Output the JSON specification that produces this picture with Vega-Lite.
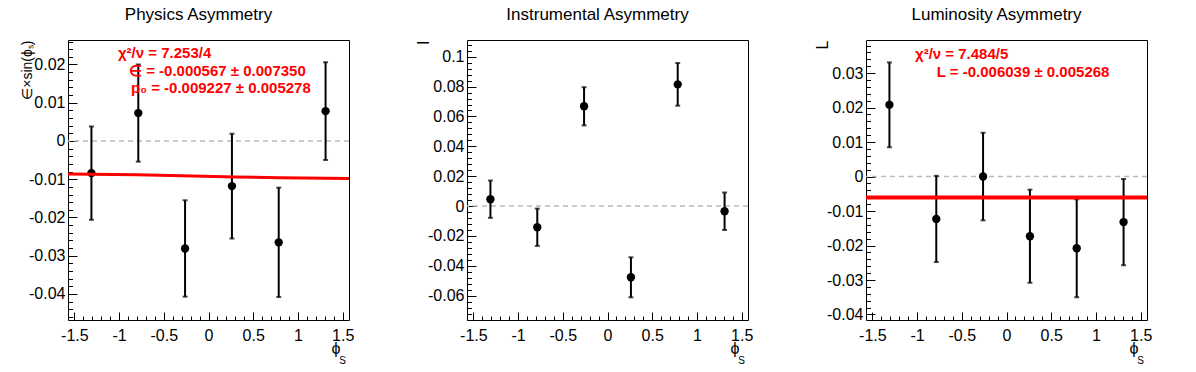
{
  "$schema": "https://vega.github.io/schema/vega-lite/v6.json",
  "autosize": {"type": "none"},
  "padding": {"left": 68, "top": 40, "right": 1128, "bottom": 332},
  "background": "white",
  "spacing": 118,
  "bounds": "flush",
  "config": {
    "view": {"stroke": "black", "strokeWidth": 1},
    "font": "Liberation Sans",
    "axis": {
      "labelFont": "Liberation Sans", "labelFontSize": 16, "labelColor": "black",
      "tickColor": "black", "tickWidth": 1, "domain": false, "grid": false,
      "labelFlush": false, "labelOverlap": false, "labelBound": false,
      "titleFont": "Liberation Sans", "titleFontSize": 16, "titleFontWeight": "normal", "titleColor": "black"
    },
    "title": {"font": "Liberation Sans", "fontSize": 17, "fontWeight": "normal", "color": "black", "dx": -10, "offset": 16}
  },
  "datasets": {
    "phys": [
      {"phi": -1.309, "asym": -0.0084, "err": 0.0122},
      {"phi": -0.785, "asym": 0.0073, "err": 0.0127},
      {"phi": -0.262, "asym": -0.0281, "err": 0.0126},
      {"phi": 0.262, "asym": -0.0118, "err": 0.0137},
      {"phi": 0.785, "asym": -0.0265, "err": 0.0143},
      {"phi": 1.309, "asym": 0.0078, "err": 0.0128}
    ],
    "physFit": [
      {"phi": -1.5708, "asym": -0.0086},
      {"phi": -0.8, "asym": -0.0088},
      {"phi": -0.3, "asym": -0.0091},
      {"phi": 0.3, "asym": -0.0094},
      {"phi": 0.8, "asym": -0.0096},
      {"phi": 1.5708, "asym": -0.0098}
    ],
    "instr": [
      {"phi": -1.309, "asym": 0.0046, "err": 0.0125},
      {"phi": -0.785, "asym": -0.0142, "err": 0.0125},
      {"phi": -0.262, "asym": 0.0668, "err": 0.0128},
      {"phi": 0.262, "asym": -0.0477, "err": 0.0134},
      {"phi": 0.785, "asym": 0.0815, "err": 0.0143},
      {"phi": 1.309, "asym": -0.0035, "err": 0.0125}
    ],
    "lumi": [
      {"phi": -1.309, "asym": 0.0208, "err": 0.0123},
      {"phi": -0.785, "asym": -0.0123, "err": 0.0125},
      {"phi": -0.262, "asym": 0.0, "err": 0.0127},
      {"phi": 0.262, "asym": -0.0173, "err": 0.0135},
      {"phi": 0.785, "asym": -0.0208, "err": 0.0142},
      {"phi": 1.309, "asym": -0.0132, "err": 0.0125}
    ],
    "lumiFit": [
      {"phi": -1.5708, "asym": -0.006039},
      {"phi": 1.5708, "asym": -0.006039}
    ],
    "one": [{}]
  },
  "hconcat": [
    {
      "width": 281, "height": 280,
      "title": {"text": "Physics Asymmetry"},
      "resolve": {"scale": {"x": "independent", "y": "independent"}, "axis": {"x": "independent", "y": "independent"}},
      "layer": [
        {"layer": [
          {"data": {"name": "one"}, "mark": {"type": "rule", "color": "#bbbbbb", "strokeDash": [5, 4], "strokeWidth": 1.5}, "encoding": {"y": {"datum": 0}}},
          {"data": {"name": "phys"},
           "mark": {"type": "errorbar", "color": "black", "thickness": 2, "ticks": {"size": 5, "thickness": 2, "color": "black"}},
           "encoding": {
             "x": {"field": "phi", "type": "quantitative", "scale": {"domain": [-1.5708, 1.5708], "nice": false, "zero": false},
               "axis": {"orient": "bottom", "title": "ϕ", "titleFontSize": 16, "titleAlign": "right", "titleBaseline": "alphabetic", "titleAngle": 0, "titleX": 272, "titleY": 33,
                 "values": [-1.5, -1, -0.5, 0, 0.5, 1, 1.5], "labelOverlap": false,
                 "labelExpr": "(datum.value<0?'-':'')+format(abs(datum.value),'~g')",
                 "tickSize": -8, "labelPadding": 15}},
             "y": {"field": "asym", "type": "quantitative", "scale": {"domain": [-0.0468, 0.0264], "nice": false, "zero": false},
               "axis": {"orient": "left", "title": "∈×sin(ϕₛ)", "titleFontSize": 14, "titleAlign": "right", "titleBaseline": "alphabetic", "titleAngle": -90, "titleX": -37, "titleY": 0,
                 "values": [-0.04, -0.03, -0.02, -0.01, 0, 0.01, 0.02], "labelOverlap": false,
                 "labelExpr": "(datum.value<0?'-':'')+format(abs(datum.value),'~g')",
                 "tickSize": -9, "labelPadding": 12}},
             "yError": {"field": "err"}
           }},
          {"data": {"name": "phys"}, "mark": {"type": "circle", "color": "black", "opacity": 1, "size": 70},
           "encoding": {"x": {"field": "phi", "type": "quantitative"}, "y": {"field": "asym", "type": "quantitative"}}},
          {"data": {"name": "physFit"}, "mark": {"type": "line", "color": "#ff0000", "strokeWidth": 3},
           "encoding": {"x": {"field": "phi", "type": "quantitative"}, "y": {"field": "asym", "type": "quantitative"}}},
          {"data": {"name": "one"}, "mark": {"type": "text", "text": "S", "fontSize": 10, "align": "right", "baseline": "alphabetic", "dy": 44, "dx": -3, "color": "black"},
           "encoding": {"x": {"datum": 1.5708}, "y": {"datum": -0.0468}}},
          {"data": {"name": "one"}, "mark": {"type": "text", "text": "χ²/ν = 7.253/4", "fontSize": 15, "fontWeight": "bold", "color": "#ff0000", "align": "left", "baseline": "middle"},
           "encoding": {"x": {"datum": -1.012}, "y": {"datum": 0.023}}},
          {"data": {"name": "one"}, "mark": {"type": "text", "text": "∈ = -0.000567 ± 0.007350", "fontSize": 15, "fontWeight": "bold", "color": "#ff0000", "align": "left", "baseline": "middle"},
           "encoding": {"x": {"datum": -0.889}, "y": {"datum": 0.0184}}},
          {"data": {"name": "one"}, "mark": {"type": "text", "text": "p₀ = -0.009227 ± 0.005278", "fontSize": 15, "fontWeight": "bold", "color": "#ff0000", "align": "left", "baseline": "middle"},
           "encoding": {"x": {"datum": -0.866}, "y": {"datum": 0.0138}}}
        ]},
        {"data": {"name": "one"}, "mark": {"type": "point", "opacity": 0},
         "encoding": {
           "x": {"datum": 0, "type": "quantitative", "scale": {"domain": [-1.5708, 1.5708], "nice": false, "zero": false},
             "axis": {"orient": "bottom", "title": null, "labels": false, "tickSize": -4,
               "values": [-1.5,-1.4,-1.3,-1.2,-1.1,-1,-0.9,-0.8,-0.7,-0.6,-0.5,-0.4,-0.3,-0.2,-0.1,0,0.1,0.2,0.3,0.4,0.5,0.6,0.7,0.8,0.9,1,1.1,1.2,1.3,1.4,1.5]}},
           "y": {"datum": 0, "type": "quantitative", "scale": {"domain": [-0.0468, 0.0264], "nice": false, "zero": false},
             "axis": {"orient": "left", "title": null, "labels": false, "tickSize": -4.5,
               "values": [-0.046,-0.044,-0.042,-0.04,-0.038,-0.036,-0.034,-0.032,-0.03,-0.028,-0.026,-0.024,-0.022,-0.02,-0.018,-0.016,-0.014,-0.012,-0.01,-0.008,-0.006,-0.004,-0.002,0,0.002,0.004,0.006,0.008,0.01,0.012,0.014,0.016,0.018,0.02,0.022,0.024,0.026]}}
         }}
      ]
    },
    {
      "width": 281, "height": 280,
      "title": {"text": "Instrumental Asymmetry"},
      "resolve": {"scale": {"x": "independent", "y": "independent"}, "axis": {"x": "independent", "y": "independent"}},
      "layer": [
        {"layer": [
          {"data": {"name": "one"}, "mark": {"type": "rule", "color": "#bbbbbb", "strokeDash": [5, 4], "strokeWidth": 1.5}, "encoding": {"y": {"datum": 0}}},
          {"data": {"name": "instr"},
           "mark": {"type": "errorbar", "color": "black", "thickness": 2, "ticks": {"size": 5, "thickness": 2, "color": "black"}},
           "encoding": {
             "x": {"field": "phi", "type": "quantitative", "scale": {"domain": [-1.5708, 1.5708], "nice": false, "zero": false},
               "axis": {"orient": "bottom", "title": "ϕ", "titleFontSize": 16, "titleAlign": "right", "titleBaseline": "alphabetic", "titleAngle": 0, "titleX": 272, "titleY": 33,
                 "values": [-1.5, -1, -0.5, 0, 0.5, 1, 1.5], "labelOverlap": false,
                 "labelExpr": "(datum.value<0?'-':'')+format(abs(datum.value),'~g')",
                 "tickSize": -8, "labelPadding": 15}},
             "y": {"field": "asym", "type": "quantitative", "scale": {"domain": [-0.0763, 0.1112], "nice": false, "zero": false},
               "axis": {"orient": "left", "title": "I", "titleAlign": "right", "titleBaseline": "alphabetic", "titleAngle": -90, "titleX": -39, "titleY": 0,
                 "values": [-0.06, -0.02, 0.02, 0.06, 0.1], "labelOverlap": false,
                 "labelExpr": "(datum.value<0?'-':'')+format(abs(datum.value),'~g')",
                 "tickSize": -9, "labelPadding": 12}},
             "yError": {"field": "err"}
           }},
          {"data": {"name": "instr"}, "mark": {"type": "circle", "color": "black", "opacity": 1, "size": 70},
           "encoding": {"x": {"field": "phi", "type": "quantitative"}, "y": {"field": "asym", "type": "quantitative"}}},
          {"data": {"name": "one"}, "mark": {"type": "text", "text": "S", "fontSize": 10, "align": "right", "baseline": "alphabetic", "dy": 44, "dx": -3, "color": "black"},
           "encoding": {"x": {"datum": 1.5708}, "y": {"datum": -0.0763}}}
        ]},
        {"data": {"name": "one"}, "mark": {"type": "point", "opacity": 0},
         "encoding": {
           "x": {"datum": 0, "type": "quantitative", "scale": {"domain": [-1.5708, 1.5708], "nice": false, "zero": false},
             "axis": {"orient": "bottom", "title": null, "labels": false, "tickSize": -4,
               "values": [-1.5,-1.4,-1.3,-1.2,-1.1,-1,-0.9,-0.8,-0.7,-0.6,-0.5,-0.4,-0.3,-0.2,-0.1,0,0.1,0.2,0.3,0.4,0.5,0.6,0.7,0.8,0.9,1,1.1,1.2,1.3,1.4,1.5]}},
           "y": {"datum": 0, "type": "quantitative", "scale": {"domain": [-0.0763, 0.1112], "nice": false, "zero": false},
             "axis": {"orient": "left", "title": null, "labels": false, "tickSize": -4.5,
               "values": [-0.076,-0.072,-0.068,-0.064,-0.06,-0.056,-0.052,-0.048,-0.044,-0.04,-0.036,-0.032,-0.028,-0.024,-0.02,-0.016,-0.012,-0.008,-0.004,0,0.004,0.008,0.012,0.016,0.02,0.024,0.028,0.032,0.036,0.04,0.044,0.048,0.052,0.056,0.06,0.064,0.068,0.072,0.076,0.08,0.084,0.088,0.092,0.096,0.1,0.104,0.108]}}
         }},
        {"data": {"name": "one"}, "mark": {"type": "point", "opacity": 0},
         "encoding": {
           "y": {"datum": 0, "type": "quantitative", "scale": {"domain": [-0.0763, 0.1112], "nice": false, "zero": false},
             "axis": {"orient": "left", "title": null, "tickSize": -9, "labelPadding": 12, "labelOverlap": false,
               "values": [-0.04, 0, 0.04, 0.08],
               "labelExpr": "(datum.value<0?'-':'')+format(abs(datum.value),'~g')"}}
         }}
      ]
    },
    {
      "width": 281, "height": 280,
      "title": {"text": "Luminosity Asymmetry"},
      "resolve": {"scale": {"x": "independent", "y": "independent"}, "axis": {"x": "independent", "y": "independent"}},
      "layer": [
        {"layer": [
          {"data": {"name": "one"}, "mark": {"type": "rule", "color": "#bbbbbb", "strokeDash": [5, 4], "strokeWidth": 1.5}, "encoding": {"y": {"datum": 0}}},
          {"data": {"name": "lumi"},
           "mark": {"type": "errorbar", "color": "black", "thickness": 2, "ticks": {"size": 5, "thickness": 2, "color": "black"}},
           "encoding": {
             "x": {"field": "phi", "type": "quantitative", "scale": {"domain": [-1.5708, 1.5708], "nice": false, "zero": false},
               "axis": {"orient": "bottom", "title": "ϕ", "titleFontSize": 16, "titleAlign": "right", "titleBaseline": "alphabetic", "titleAngle": 0, "titleX": 272, "titleY": 33,
                 "values": [-1.5, -1, -0.5, 0, 0.5, 1, 1.5], "labelOverlap": false,
                 "labelExpr": "(datum.value<0?'-':'')+format(abs(datum.value),'~g')",
                 "tickSize": -8, "labelPadding": 15}},
             "y": {"field": "asym", "type": "quantitative", "scale": {"domain": [-0.0416, 0.0396], "nice": false, "zero": false},
               "axis": {"orient": "left", "title": "L", "titleAlign": "right", "titleBaseline": "alphabetic", "titleAngle": -90, "titleX": -39, "titleY": 0,
                 "values": [-0.04, -0.02, 0, 0.02], "labelOverlap": false,
                 "labelExpr": "(datum.value<0?'-':'')+format(abs(datum.value),'~g')",
                 "tickSize": -9, "labelPadding": 12}},
             "yError": {"field": "err"}
           }},
          {"data": {"name": "lumi"}, "mark": {"type": "circle", "color": "black", "opacity": 1, "size": 70},
           "encoding": {"x": {"field": "phi", "type": "quantitative"}, "y": {"field": "asym", "type": "quantitative"}}},
          {"data": {"name": "lumiFit"}, "mark": {"type": "line", "color": "#ff0000", "strokeWidth": 4},
           "encoding": {"x": {"field": "phi", "type": "quantitative"}, "y": {"field": "asym", "type": "quantitative"}}},
          {"data": {"name": "one"}, "mark": {"type": "text", "text": "S", "fontSize": 10, "align": "right", "baseline": "alphabetic", "dy": 44, "dx": -3, "color": "black"},
           "encoding": {"x": {"datum": 1.5708}, "y": {"datum": -0.0416}}},
          {"data": {"name": "one"}, "mark": {"type": "text", "text": "χ²/ν = 7.484/5", "fontSize": 15, "fontWeight": "bold", "color": "#ff0000", "align": "left", "baseline": "middle"},
           "encoding": {"x": {"datum": -1.023}, "y": {"datum": 0.0355}}},
          {"data": {"name": "one"}, "mark": {"type": "text", "text": "L = -0.006039 ± 0.005268", "fontSize": 15, "fontWeight": "bold", "color": "#ff0000", "align": "left", "baseline": "middle"},
           "encoding": {"x": {"datum": -0.78}, "y": {"datum": 0.0302}}}
        ]},
        {"data": {"name": "one"}, "mark": {"type": "point", "opacity": 0},
         "encoding": {
           "x": {"datum": 0, "type": "quantitative", "scale": {"domain": [-1.5708, 1.5708], "nice": false, "zero": false},
             "axis": {"orient": "bottom", "title": null, "labels": false, "tickSize": -4,
               "values": [-1.5,-1.4,-1.3,-1.2,-1.1,-1,-0.9,-0.8,-0.7,-0.6,-0.5,-0.4,-0.3,-0.2,-0.1,0,0.1,0.2,0.3,0.4,0.5,0.6,0.7,0.8,0.9,1,1.1,1.2,1.3,1.4,1.5]}},
           "y": {"datum": 0, "type": "quantitative", "scale": {"domain": [-0.0416, 0.0396], "nice": false, "zero": false},
             "axis": {"orient": "left", "title": null, "labels": false, "tickSize": -4.5,
               "values": [-0.04,-0.038,-0.036,-0.034,-0.032,-0.03,-0.028,-0.026,-0.024,-0.022,-0.02,-0.018,-0.016,-0.014,-0.012,-0.01,-0.008,-0.006,-0.004,-0.002,0,0.002,0.004,0.006,0.008,0.01,0.012,0.014,0.016,0.018,0.02,0.022,0.024,0.026,0.028,0.03,0.032,0.034,0.036,0.038]}}
         }},
        {"data": {"name": "one"}, "mark": {"type": "point", "opacity": 0},
         "encoding": {
           "y": {"datum": 0, "type": "quantitative", "scale": {"domain": [-0.0416, 0.0396], "nice": false, "zero": false},
             "axis": {"orient": "left", "title": null, "tickSize": -9, "labelPadding": 12, "labelOverlap": false,
               "values": [-0.03, -0.01, 0.01, 0.03],
               "labelExpr": "(datum.value<0?'-':'')+format(abs(datum.value),'~g')"}}
         }}
      ]
    }
  ]
}
